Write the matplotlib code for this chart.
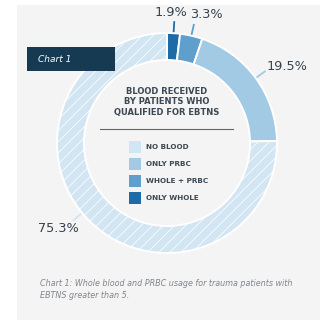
import matplotlib
matplotlib.use("Agg")
import matplotlib.pyplot as plt
import numpy as np
from matplotlib.patches import Rectangle

# ---- data ----
categories = ["ONLY WHOLE", "WHOLE + PRBC", "ONLY PRBC", "NO BLOOD"]
values = [1.9, 3.3, 19.5, 75.3]
labels = ["1.9%", "3.3%", "19.5%", "75.3%"]
legend_order = ["NO BLOOD", "ONLY PRBC", "WHOLE + PRBC", "ONLY WHOLE"]
colors = {"ONLY WHOLE": "#1c6aa6", "WHOLE + PRBC": "#5f9fcd",
          "ONLY PRBC": "#a2cae4", "NO BLOOD": "#d2e5f2"}
title_lines = ["BLOOD RECEIVED", "BY PATIENTS WHO", "QUALIFIED FOR EBTNS"]
caption_lines = ["Chart 1: Whole blood and PRBC usage for trauma patients with",
                 "EBTNS greater than 5."]

W, H = 320, 324
plt.rcParams['hatch.linewidth'] = 0.55
fig = plt.figure(figsize=(W / 100, H / 100), dpi=100)
fig.patch.set_facecolor("white")
ax = fig.add_axes([0, 0, 1, 1])

def py(y):  # pixel y (top-down) -> data y
    return H - y

# background panel
ax.add_patch(Rectangle((17, py(320)), 303, 315, facecolor="#f4f4f4", edgecolor="none", zorder=0))

cx, cy, R, ring = 167, py(143), 110, 27
wedges, _ = ax.pie(values, colors=[colors[c] for c in categories], startangle=90,
                   counterclock=False, radius=R, center=(cx, cy),
                   wedgeprops=dict(width=ring, edgecolor="white", linewidth=1.4))
for w in wedges:
    w.set_zorder(2)
wedges[-1].set_hatch("///")

# leader lines and labels
label_pos = [(171, 13), (206, 15), (287, 67), (58, 229)]
leader_angle_shift = [0, 0, 0, -6]
total = sum(values)
start = 90.0
for i, v in enumerate(values):
    mid = start - v / total * 360 / 2 + leader_angle_shift[i]
    start -= v / total * 360
    a = np.deg2rad(mid)
    r0, r1 = R - 2, R + 12
    ax.plot([cx + r0 * np.cos(a), cx + r1 * np.cos(a)],
            [cy + r0 * np.sin(a), cy + r1 * np.sin(a)],
            color=colors[categories[i]], lw=1.3, zorder=1, solid_capstyle="butt")
    lx, ly = label_pos[i]
    ax.text(lx, py(ly), labels[i], ha="center", va="center", fontsize=9.3,
            color="#36424e", family="DejaVu Sans", zorder=3)

# Chart 1 tag
ax.add_patch(Rectangle((27, py(71)), 88, 24, facecolor="#163a52", edgecolor="none", zorder=4))
ax.text(38, py(59), "Chart 1", ha="left", va="center", fontsize=6.5, style="italic",
        color="white", zorder=5)

# center title
for i, t in enumerate(title_lines):
    ax.text(cx, py(91 + 11 * i), t, ha="center", va="center", fontsize=6.0,
            fontweight="bold", color="#3c4854", zorder=3)
ax.plot([100, 233], [py(129), py(129)], color="#5c6770", lw=0.8, zorder=3)

# legend
leg_y = [147, 164, 181, 198]
for i, c in enumerate(legend_order):
    ax.add_patch(Rectangle((129, py(leg_y[i] + 6)), 12, 12, facecolor=colors[c],
                           edgecolor="none", zorder=3))
    ax.text(146, py(leg_y[i]), c, ha="left", va="center", fontsize=5.2,
            fontweight="bold", color="#3c4854", zorder=3)

# caption
for i, t in enumerate(caption_lines):
    ax.text(40, py(283 + 12 * i), t, ha="left", va="center", fontsize=5.8,
            style="italic", color="#80868c", zorder=3)

ax.set_xlim(0, W)
ax.set_ylim(0, H)
ax.set_aspect("auto")
ax.axis("off")
fig.savefig("out.png", dpi=100, facecolor="white")
